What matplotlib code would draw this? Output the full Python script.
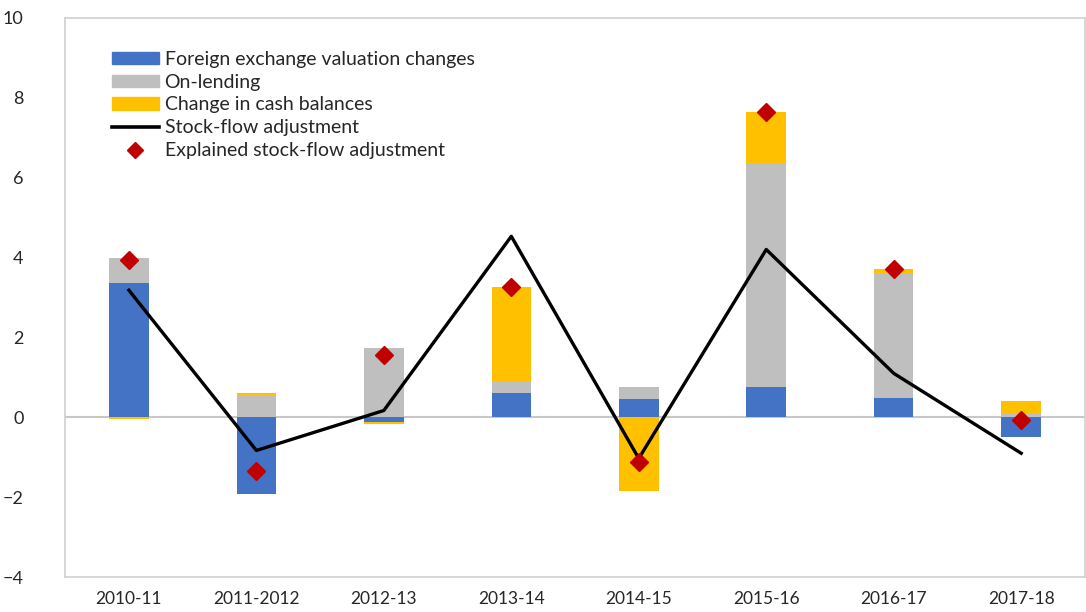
import numpy as np
import matplotlib.pyplot as plt
from matplotlib.patches import Patch
from matplotlib.lines import Line2D

plt.rcParams['font.family'] = ['Lato', 'DejaVu Sans']

years = ['2010-11', '2011-2012', '2012-13', '2013-14', '2014-15',
         '2015-16', '2016-17', '2017-18']
fx_valuation = [3.35, -1.93, -0.12, 0.60, 0.47, 0.75, 0.48, -0.50]
on_lending = [0.63, 0.55, 1.73, 0.30, 0.28, 5.60, 3.12, 0.12]
cash_balances = [-0.05, 0.05, -0.05, 2.35, -1.85, 1.30, 0.10, 0.30]
stock_flow = [3.18, -0.83, 0.17, 4.53, -1.03, 4.20, 1.10, -0.90]
explained = [3.93, -1.35, 1.56, 3.25, -1.12, 7.65, 3.72, -0.08]

series = [fx_valuation, on_lending, cash_balances]
colors = ['#4472C4', '#BFBFBF', '#FFC000']
labels = ['Foreign exchange valuation changes', 'On-lending',
          'Change in cash balances']

fig = plt.figure(figsize=(10.86, 6.12), dpi=100)
ax = fig.add_axes([0.06, 0.057, 0.939, 0.914])

x = np.arange(len(years))
width = 0.31
pos_base = np.zeros(len(years))
neg_base = np.zeros(len(years))
for vals, c in zip(series, colors):
    vals = np.array(vals)
    base = np.where(vals >= 0, pos_base, neg_base)
    ax.bar(x, vals, width, bottom=base, color=c, zorder=2)
    pos_base += np.where(vals >= 0, vals, 0)
    neg_base += np.where(vals < 0, vals, 0)

ax.axhline(0, color='#C8C8C8', lw=1.5, zorder=1)
ax.plot(x, stock_flow, color='black', lw=2.4, zorder=3)
ax.plot(x, explained, 'D', color='#C00000', markersize=9, ls='none', zorder=4)

ax.set_xlim(-0.5, 7.5)
ax.set_ylim(-4, 10)
ax.set_yticks(np.arange(-4, 11, 2))
ax.set_xticks(x)
ax.set_xticklabels(years)
ax.tick_params(length=0, labelsize=12.5, colors='#262626')
ax.tick_params(axis='y', labelsize=13, pad=30)
ax.tick_params(axis='x', pad=10)
for s in ax.spines.values():
    s.set_color('#D0D0D0')
    s.set_linewidth(1.2)

handles = [Patch(color=c, label=l) for c, l in zip(colors, labels)]
handles.append(Line2D([], [], color='black', lw=2.6, label='Stock-flow adjustment'))
handles.append(Line2D([], [], marker='D', color='#C00000', ls='none',
                      markersize=8, label='Explained stock-flow adjustment'))
leg = ax.legend(handles=handles, loc='upper left', bbox_to_anchor=(0.046, 0.941),
                frameon=False, fontsize=14, handlelength=2.4, handleheight=0.6,
                labelspacing=0.3, handletextpad=0.3, borderaxespad=0,
                borderpad=0)
for t in leg.get_texts():
    t.set_color('#262626')

fig.savefig('out.png', dpi=100)
